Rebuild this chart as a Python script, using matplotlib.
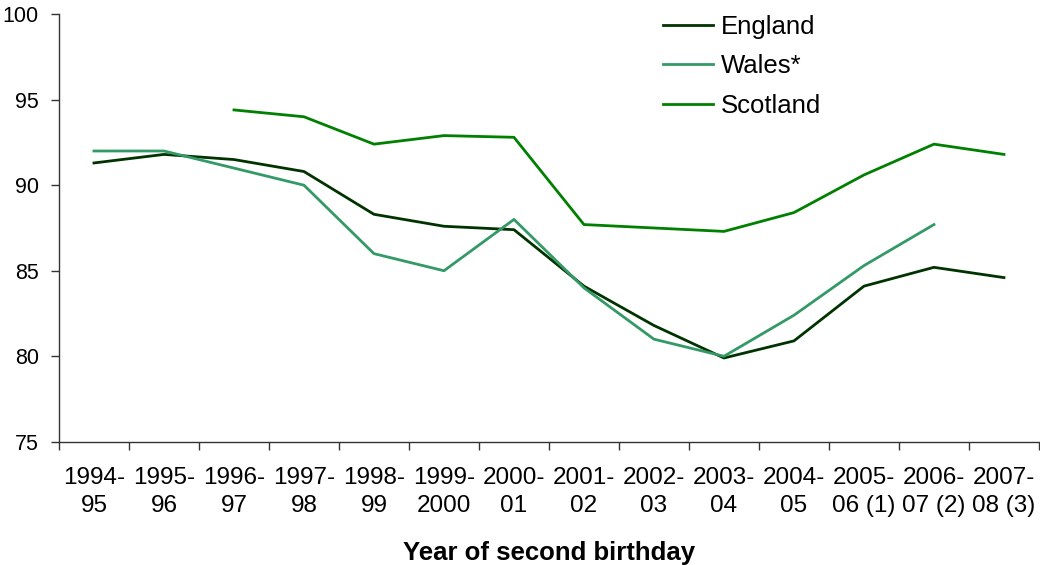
import matplotlib
matplotlib.use("Agg")
import matplotlib.pyplot as plt
import numpy as np

plt.rcParams['font.family'] = ['Liberation Sans', 'DejaVu Sans']

# --- Data ---
years = ["1994-\n95", "1995-\n96", "1996-\n97", "1997-\n98", "1998-\n99",
         "1999-\n2000", "2000-\n01", "2001-\n02", "2002-\n03", "2003-\n04",
         "2004-\n05", "2005-\n06 (1)", "2006-\n07 (2)", "2007-\n08 (3)"]

england = [91.3, 91.8, 91.5, 90.8, 88.3, 87.6, 87.4, 84.1, 81.8, 79.9,
           80.9, 84.1, 85.2, 84.6]
wales = [92.0, 92.0, 91.0, 90.0, 86.0, 85.0, 88.0, 84.0, 81.0, 80.0,
         82.4, 85.3, 87.7, None]
scotland = [None, None, 94.4, 94.0, 92.4, 92.9, 92.8, 87.7, 87.5, 87.3,
            88.4, 90.6, 92.4, 91.8]

series = [
    ("England", england, "#003300"),
    ("Wales*", wales, "#339966"),
    ("Scotland", scotland, "#008000"),
]

fig = plt.figure(figsize=(10.4, 5.65), dpi=100)
ax = fig.add_axes([0.0567, 0.218, 0.9423, 0.757])

x = np.arange(len(years))
for name, vals, color in series:
    y = np.array([np.nan if v is None else v for v in vals], dtype=float)
    ax.plot(x, y, color=color, linewidth=2.0, label=name)

ax.set_xlim(-0.5, len(years) - 0.5)
ax.set_ylim(75, 100)
ax.set_yticks([75, 80, 85, 90, 95, 100])

# category labels at centres, tick marks on the boundaries
ax.set_xticks(x)
ax.set_xticklabels(years, fontsize=17.5, linespacing=1.36)
ax.set_xticks(np.arange(-0.5, len(years), 1.0), minor=True)
ax.tick_params(axis='x', which='major', length=0, pad=18)
ax.tick_params(axis='x', which='minor', length=6, width=1, color='#333333')
ax.tick_params(axis='y', length=6, width=1, color='#333333', labelsize=15.5, pad=8.5)

for side in ('top', 'right'):
    ax.spines[side].set_visible(False)
for side in ('left', 'bottom'):
    ax.spines[side].set_color('#333333')
    ax.spines[side].set_linewidth(1)

ax.set_xlabel("Year of second birthday", fontsize=18.5, fontweight='bold', labelpad=17)

ax.legend(loc='upper left', bbox_to_anchor=(663 / 1040, 1 - 15 / 565),
          bbox_transform=fig.transFigure, frameon=False, fontsize=18.5,
          handlelength=1.95, handletextpad=0.3, labelspacing=0.6, borderpad=0,
          borderaxespad=0)

fig.savefig("out.png", dpi=100)
